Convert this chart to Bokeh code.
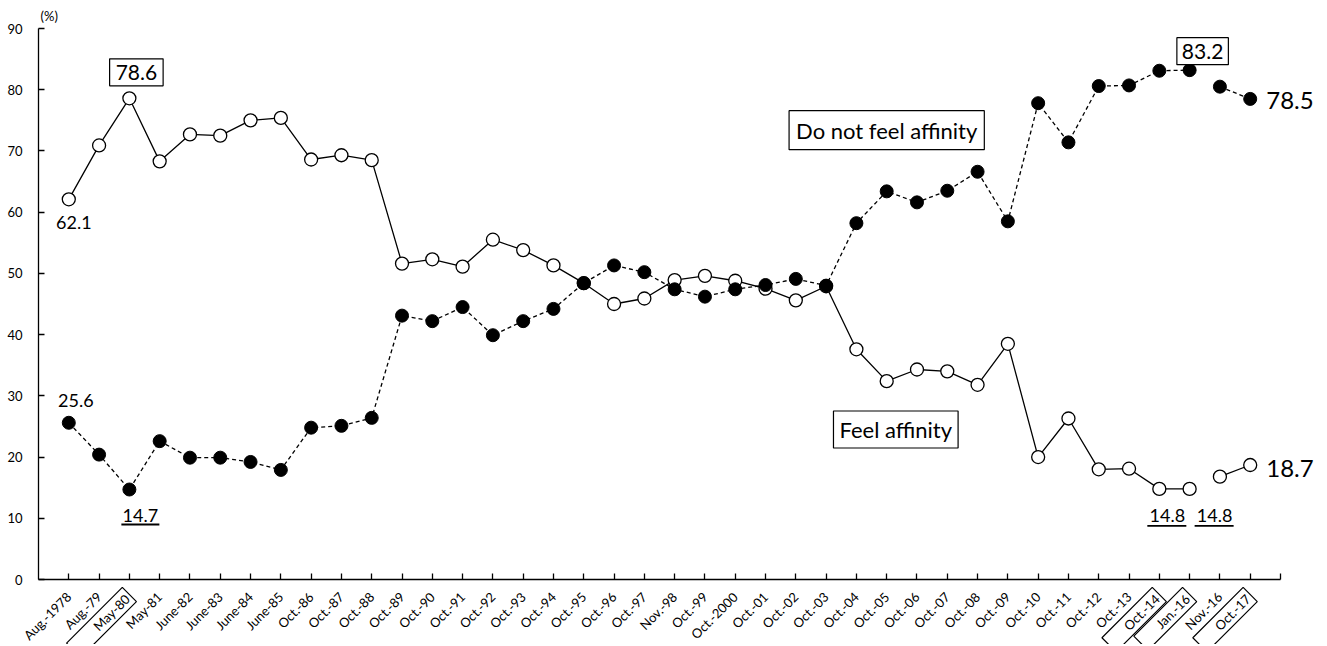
import math
from bokeh.plotting import figure
from bokeh.models import Label, FixedTicker, Range1d
from bokeh.embed import file_html
from bokeh.resources import INLINE

categories = ["Aug.-1978", "Aug.-79", "May-80", "May-81", "June-82", "June-83", "June-84",
              "June-85", "Oct.-86", "Oct.-87", "Oct.-88", "Oct.-89", "Oct.-90", "Oct.-91",
              "Oct.-92", "Oct.-93", "Oct.-94", "Oct.-95", "Oct.-96", "Oct.-97", "Nov.-98",
              "Oct.-99", "Oct.-2000", "Oct.-01", "Oct.-02", "Oct.-03", "Oct.-04", "Oct.-05",
              "Oct.-06", "Oct.-07", "Oct.-08", "Oct.-09", "Oct.-10", "Oct.-11", "Oct.-12",
              "Oct.-13", "Oct.-14", "Jan.-16", "Nov.-16", "Oct.-17"]

feel_affinity = [62.1, 70.9, 78.6, 68.3, 72.7, 72.5, 75.0, 75.4, 68.6, 69.3,
                 68.5, 51.6, 52.3, 51.1, 55.5, 53.8, 51.3, 48.4, 45.0, 45.9,
                 48.9, 49.6, 48.8, 47.5, 45.6, 47.9, 37.6, 32.4, 34.3, 34.0,
                 31.8, 38.5, 20.0, 26.3, 18.0, 18.1, 14.8, 14.8, 16.8, 18.7]

not_feel_affinity = [25.6, 20.4, 14.7, 22.6, 19.9, 19.9, 19.2, 17.9, 24.8, 25.1,
                     26.4, 43.1, 42.2, 44.5, 39.9, 42.2, 44.2, 48.4, 51.3, 50.2,
                     47.4, 46.2, 47.4, 48.1, 49.1, 48.0, 58.2, 63.4, 61.6, 63.5,
                     66.6, 58.5, 77.8, 71.4, 80.6, 80.7, 83.1, 83.2, 80.5, 78.5]

boxed_ticks = ["May-80", "Oct.-14", "Jan.-16", "Oct.-17"]
y_ticks = [0, 10, 20, 30, 40, 50, 60, 70, 80, 90]
break_after = "Jan.-16"   # series is not connected across this gap

FONT = "Lato"
INK = "#000000"

W, H = 1319, 644
# axis box inside the canvas (pixels)
AX_L, AX_R, AX_T, AX_B = 38, 1280, 28, 579
n = len(categories)
x_lo, x_hi = -1, n
y_lo, y_hi = y_ticks[0], y_ticks[-1]
px_per_x = (AX_R - AX_L) / (x_hi - x_lo)
px_per_y = (AX_B - AX_T) / (y_hi - y_lo)

x_range = Range1d(x_lo - AX_L / px_per_x, x_hi + (W - AX_R) / px_per_x)
y_range = Range1d(y_lo - (H - AX_B) / px_per_y, y_hi + AX_T / px_per_y)

p = figure(width=W, height=H, x_range=x_range, y_range=y_range,
           output_backend="svg", toolbar_location=None,
           min_border=0, min_border_left=0, min_border_right=0,
           min_border_top=0, min_border_bottom=0)
p.outline_line_color = None
p.grid.grid_line_color = None
p.background_fill_color = "white"
p.border_fill_color = "white"

# axes, pinned at the data origin
p.xaxis.fixed_location = y_lo
p.yaxis.fixed_location = x_lo
p.xaxis.bounds = (x_lo, x_hi)
p.yaxis.bounds = (y_lo, y_hi)
p.yaxis.ticker = FixedTicker(ticks=y_ticks)
p.xaxis.ticker = FixedTicker(ticks=list(range(0, n + 1)))
overrides = {i: ("" if c in boxed_ticks else c) for i, c in enumerate(categories)}
overrides[n] = ""
p.xaxis.major_label_overrides = overrides
p.xaxis.major_label_orientation = math.pi / 4
for ax in (p.xaxis, p.yaxis):
    ax.major_tick_in = 6
    ax.major_tick_out = 0
    ax.minor_tick_line_color = None
    ax.axis_line_color = INK
    ax.axis_line_width = 1.3
    ax.major_tick_line_color = INK
    ax.major_tick_line_width = 1.3
    ax.major_label_text_font = FONT
    ax.major_label_text_color = INK
p.yaxis.major_label_text_font_size = "13px"
p.yaxis.major_label_standoff = 16
XSTAND = 15
p.xaxis.major_label_text_font_size = "13px"
p.xaxis.major_label_standoff = XSTAND

xs = list(range(n))
cut = categories.index(break_after) + 1

# Feel affinity: open circles, solid line
for a, b in ((0, cut), (cut, n)):
    p.line(xs[a:b], feel_affinity[a:b], line_color=INK, line_width=1.3)
# Do not feel affinity: filled circles, dashed line
for a, b in ((0, cut), (cut, n)):
    p.line(xs[a:b], not_feel_affinity[a:b], line_color=INK, line_width=1.3, line_dash="4 3")
p.scatter(xs, feel_affinity, size=13, marker="circle", fill_color="white",
          line_color=INK, line_width=1.3)
p.scatter(xs, not_feel_affinity, size=13, marker="circle", fill_color=INK,
          line_color=INK, line_width=1)


def lab(i, v, text, dx, dy, size, align="center", box=False, pad=None):
    kw = {}
    if box:
        kw = dict(border_line_color=INK, border_line_width=1.2,
                  background_fill_color="white", padding=pad)
    p.add_layout(Label(x=i, y=v, x_offset=dx, y_offset=dy, text=text,
                       text_font=FONT, text_font_size=f"{size}px", text_color=INK,
                       text_align=align, text_baseline="middle", **kw))


def underline(i, v, dx0, dx1, dy):
    p.segment(x0=[i + dx0 / px_per_x], x1=[i + dx1 / px_per_x],
              y0=[v + dy / px_per_y], y1=[v + dy / px_per_y],
              line_color=INK, line_width=1.8)


# data labels
i0 = 0
lab(i0, feel_affinity[i0], f"{feel_affinity[i0]}", 5, -23, 18)
lab(i0, not_feel_affinity[i0], f"{not_feel_affinity[i0]}", 7, 22, 18)

imax = feel_affinity.index(max(feel_affinity[:10]))
lab(imax, feel_affinity[imax], f"{feel_affinity[imax]}", 7, 26, 21, box=True,
    pad=dict(left=6, right=6, top=6, bottom=6))
lab(imax, not_feel_affinity[imax], f"{not_feel_affinity[imax]}", 11, -26, 18)
underline(imax, not_feel_affinity[imax], -8, 30, -35)

i14 = categories.index("Oct.-14")
i16 = categories.index("Jan.-16")
lab(i14, feel_affinity[i14], f"{feel_affinity[i14]}", 8, -27, 18)
underline(i14, feel_affinity[i14], -12, 27, -37)
lab(i16, feel_affinity[i16], f"{feel_affinity[i16]}", 25, -27, 18)
underline(i16, feel_affinity[i16], 5, 44, -37)
lab(i16, not_feel_affinity[i16], f"{not_feel_affinity[i16]}", 13, 19, 21, box=True,
    pad=dict(left=5, right=5, top=6, bottom=6))

il = n - 1
lab(il, feel_affinity[il], f"{feel_affinity[il]}", 16, -3, 24, align="left")
lab(il, not_feel_affinity[il], f"{not_feel_affinity[il]}", 16, -2, 24, align="left")

# series names
lab(27, 73.4, "Do not feel affinity", 0, 0, 22, box=True,
    pad=dict(left=7, right=7, top=6, bottom=6))
lab(27.3, 24.5, "Feel affinity", 0, 0, 22, box=True,
    pad=dict(left=6, right=6, top=5, bottom=5))

# unit
p.add_layout(Label(x=x_lo, y=y_hi, x_offset=2, y_offset=13, text="(%)",
                   text_font=FONT, text_font_size="13px", text_color=INK,
                   text_align="left", text_baseline="middle"))

# boxed tick labels
for c in boxed_ticks:
    i = categories.index(c)
    p.add_layout(Label(x=i, y=y_lo, x_offset=0, y_offset=-XSTAND, text=c, angle=math.pi / 4,
                       text_font=FONT, text_font_size="13px", text_color=INK,
                       text_align="right", text_baseline="middle",
                       border_line_color=INK, border_line_width=1.2,
                       padding=dict(left=max(2, 73 - 7 * len(c)), right=3, top=2, bottom=2)))

open("out.html", "w").write(file_html(p, INLINE))
